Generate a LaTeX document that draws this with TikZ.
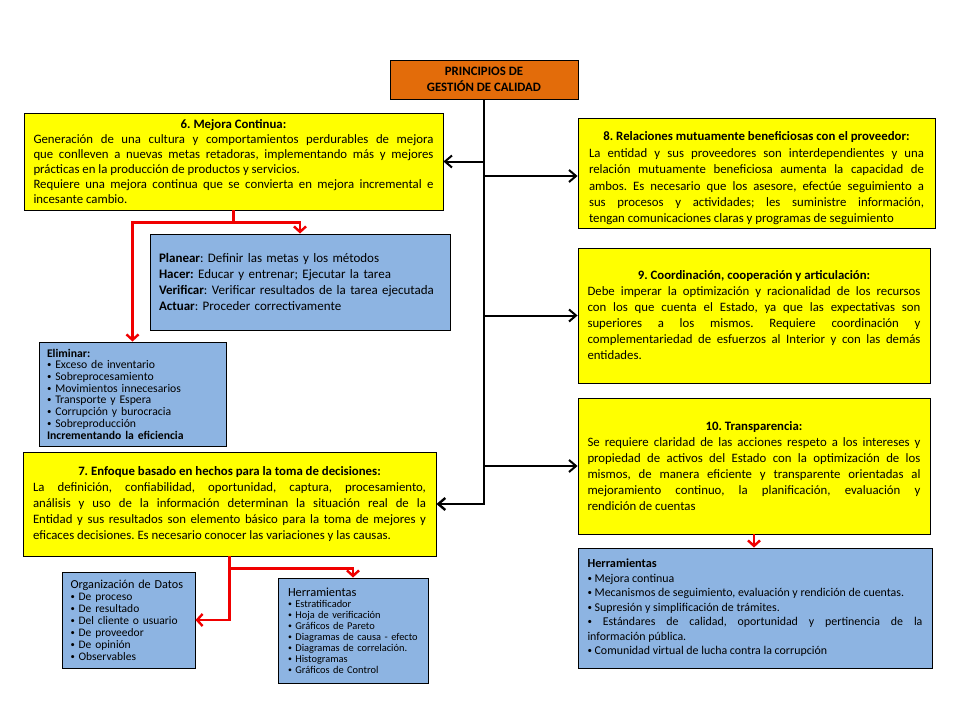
\documentclass[tikz,border=0pt]{standalone}
\usepackage{fontspec}
\setmainfont{Carlito}
\usetikzlibrary{arrows.meta}
\setlength{\parindent}{0pt}
\frenchspacing
\newcommand{\mybul}{\raisebox{0.2ex}{\scalebox{0.75}{•}}\ }
\definecolor{yelfill}{HTML}{FFFF00}
\definecolor{blufill}{HTML}{8DB4E2}
\definecolor{orafill}{HTML}{E36C0A}
\definecolor{arred}{HTML}{F00000}
\tikzset{
  box/.style={draw=black, line width=0.9pt, inner ysep=0pt},
  yel/.style={box, fill=yelfill, align=justify, font=\fontsize{12.8}{16}\selectfont},
  blu/.style={box, fill=blufill},
  blk/.style={draw=black, line width=2pt, -{Straight Barb[length=7pt,width=12pt]}},
  trunk/.style={draw=black, line width=2.4pt, -{Straight Barb[length=7pt,width=12pt]}},
  redl/.style={draw=arred, line width=2.4pt},
  redarr/.style={draw=arred, line width=2.4pt, -{Straight Barb[length=5.5pt,width=12pt]}},
}
\begin{document}
\begin{tikzpicture}[x=1pt,y=-1pt]
\fill[white] (0,0) rectangle (960,720);
\useasboundingbox (0,0) rectangle (960,720);

% title
\node[box, fill=orafill, minimum width=188pt, minimum height=39pt, align=center,
      font=\bfseries\fontsize{12.8}{16}\selectfont] (t) at (484,79.5)
  {PRINCIPIOS DE\\GESTIÓN DE CALIDAD};

% box 6
\node[yel, minimum width=419pt, minimum height=97pt, inner xsep=9.5pt, text width=400pt,
      font=\fontsize{12.8}{15.1}\selectfont] (b6) at (233.5,161.5)
  {{\centering\textbf{6. Mejora Continua:}\par}
   Generación de una cultura y comportamientos perdurables de mejora\linebreak
   que conlleven a nuevas metas retadoras, implementando más y mejores\linebreak
   prácticas en la producción de productos y servicios.\\
   Requiere una mejora continua que se convierta en mejora incremental e\linebreak
   incesante cambio.};

% box 8
\node[yel, minimum width=357pt, minimum height=110pt, inner xsep=11pt, text width=335pt,
      font=\fontsize{12.8}{16.4}\selectfont] (b8) at (756.5,173)
  {{\centering\rule{0pt}{20pt}\textbf{8. Relaciones mutuamente beneficiosas con el proveedor:}\par}
   La entidad y sus proveedores son interdependientes y una\linebreak
   relación mutuamente beneficiosa aumenta la capacidad de\linebreak
   ambos. Es necesario que los asesore, efectúe seguimiento a\linebreak
   sus procesos y actividades; les suministre información,\linebreak
   tengan comunicaciones claras y programas de seguimiento};

% box 9
\node[yel, minimum width=352pt, minimum height=135pt, inner xsep=9.5pt, text width=333pt] (b9) at (754,315.5)
  {{\centering\textbf{9. Coordinación,  cooperación  y articulación:}\par}
   Debe imperar la optimización y racionalidad de los recursos\linebreak
   con los que cuenta el Estado, ya que las expectativas son\linebreak
   superiores a los mismos. Requiere coordinación y\linebreak
   complementariedad de esfuerzos al Interior y con las demás\linebreak
   entidades.};

% box 10
\node[yel, minimum width=352pt, minimum height=136pt, inner xsep=9.5pt, text width=333pt] (b10) at (754,466)
  {{\centering\textbf{10. Transparencia:}\par}
   Se requiere claridad de las acciones respeto a los intereses y\linebreak
   propiedad de activos del Estado con la optimización de los\linebreak
   mismos, de manera eficiente y transparente orientadas al\linebreak
   mejoramiento continuo, la planificación, evaluación y\linebreak
   rendición de cuentas};

% box 7
\node[yel, minimum width=413pt, minimum height=104pt, inner xsep=10pt, text width=393pt] (b7) at (229.5,504)
  {{\centering\textbf{7. Enfoque basado  en hechos para la toma de decisiones:}\par}
   La definición, confiabilidad, oportunidad, captura, procesamiento,\linebreak
   análisis y uso de la información determinan la situación real de la\linebreak
   Entidad y sus resultados son elemento básico para la toma de mejores y\linebreak
   eficaces decisiones. Es necesario conocer las variaciones y las causas.};

% herramientas right
\node[blu, minimum width=354pt, minimum height=120pt, inner xsep=9.5pt, text width=335pt, align=justify,
      font=\fontsize{11.9}{14.5}\selectfont] (hr) at (755,608)
  {{\fontsize{12.3}{14.5}\selectfont\textbf{Herramientas}}\\
   \mybul Mejora continua\\
   \mybul Mecanismos de seguimiento, evaluación y rendición de cuentas.\\
   \mybul Supresión y simplificación de trámites.\\
   \mybul Estándares de calidad, oportunidad y pertinencia de la\linebreak
   información pública.\\
   \mybul Comunidad virtual de lucha contra la corrupción};

% PHVA
\node[blu, minimum width=300pt, minimum height=96pt, inner xsep=9pt, text width=282pt, align=left,
      font=\fontsize{13}{16}\selectfont] (phva) at (300,282)
  {\textbf{Planear}: Definir las metas  y los métodos\\
   \textbf{Hacer:} Educar y entrenar; Ejecutar  la tarea\\
   \textbf{Verificar}: Verificar resultados de la tarea ejecutada\\
   \textbf{Actuar}: Proceder correctivamente};

% Eliminar
\node[blu, minimum width=187pt, minimum height=104pt, inner xsep=8pt, text width=171pt, align=left,
      font=\fontsize{11.7}{11.7}\selectfont] (elim) at (132.5,394)
  {\textbf{Eliminar:}\\
   \mybul Exceso de inventario\\
   \mybul Sobreprocesamiento\\
   \mybul Movimientos innecesarios\\
   \mybul Transporte y Espera\\
   \mybul Corrupción y burocracia\\
   \mybul Sobreproducción\\
   \textbf{Incrementando  la eficiencia}};

% Organizacion de datos
\node[blu, minimum width=133pt, minimum height=96pt, inner xsep=8.5pt, text width=116pt, align=left,
      font=\fontsize{11.5}{12}\selectfont] (org) at (128.5,620)
  {\mbox{\fontsize{12.2}{12}\selectfont Organización de Datos}\\
   \mybul De proceso\\
   \mybul De resultado\\
   \mybul Del cliente o usuario\\
   \mybul De proveedor\\
   \mybul De opinión\\
   \mybul Observables};

% Herramientas left
\node[blu, minimum width=150pt, minimum height=105pt, inner xsep=10pt, text width=130pt, align=left,
      font=\fontsize{10.4}{11}\selectfont] (herr) at (353,630.5)
  {{\fontsize{12.4}{11}\selectfont Herramientas}\\
   \mybul Estratificador\\
   \mybul Hoja de verificación\\
   \mybul Gráficos de Pareto\\
   \mybul Diagramas de causa - efecto\\
   \mybul Diagramas de correlación.\\
   \mybul Histogramas\\
   \mybul Gráficos de Control};

% black connectors
\draw[trunk] (t.south) |- (b7.east);
\draw[blk] (t.south |- b6.east) -- (b6.east);
\draw[blk] (t.south |- b8.west) ++(0,3) -- (b8.west |- 0,176);
\draw[blk] (t.south |- b9.west) -- (b9.west);
\draw[blk] (t.south |- b10.west) -- (b10.west);

% red connectors
\draw[redl] (b6.south) -- ++(0,12) coordinate (r6);
\draw[redarr] (r6) -| (phva.north);
\draw[redarr] (r6) -| (elim.north);
\draw[redarr] (b7.south) |- (org.east);
\draw[redl] (b7.south) -- ++(0,12) coordinate (r7);
\draw[redarr] (r7) -| (herr.north);
\draw[redarr] (b10.south) -- (b10.south |- hr.north);
\end{tikzpicture}
\end{document}
